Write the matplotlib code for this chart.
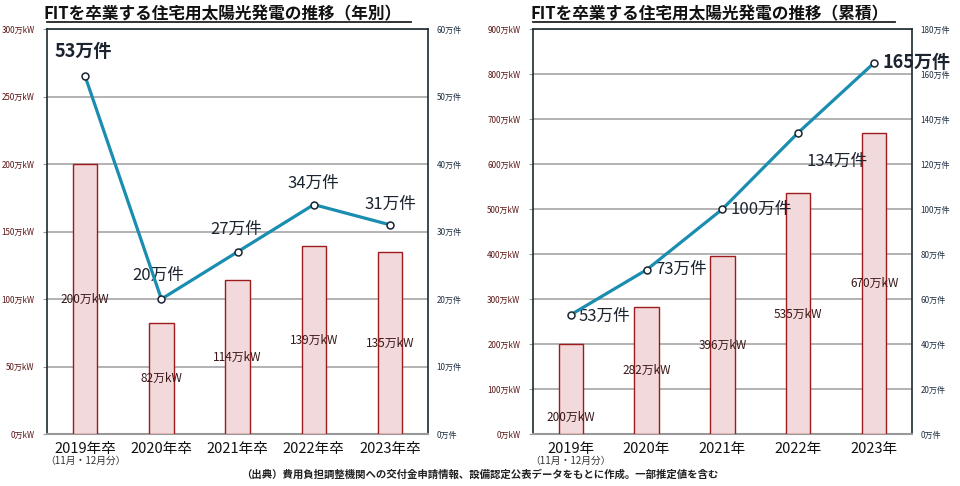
import numpy as np
import matplotlib.pyplot as plt

plt.rcParams['font.family'] = ['Noto Sans CJK JP', 'DejaVu Sans']

# data
years_annual = ["2019年卒", "2020年卒", "2021年卒", "2022年卒", "2023年卒"]
years_cum = ["2019年", "2020年", "2021年", "2022年", "2023年"]
kw_annual = [200, 82, 114, 139, 135]      # 万kW
count_annual = [53, 20, 27, 34, 31]       # 万件
kw_cum = [200, 282, 396, 535, 670]        # 万kW
count_cum = [53, 73, 100, 134, 165]       # 万件

LINE_C = "#1a8db0"
BAR_FC = "#f2d9db"
BAR_EC = "#9e1b1b"
LEFT_TC = "#5a1515"
RIGHT_TC = "#1f2f40"
TXT_C = "#1c2430"


def draw_panel(fig, rect, cats, kw, cnt, kw_max, kw_step, cnt_max, cnt_step,
               title, cnt_offsets, kw_label_y, bold_idx, title_pos):
    ax = fig.add_axes(rect)
    x = np.arange(len(cats))
    ax.bar(x, kw, width=0.32, color=BAR_FC, edgecolor=BAR_EC, linewidth=1.0, zorder=3)
    ax.set_xlim(-0.5, len(cats) - 0.5)
    ax.set_ylim(0, kw_max)
    ax.set_yticks(np.arange(0, kw_max + 1, kw_step))
    ax.set_yticklabels([f"{v}万kW" for v in range(0, kw_max + 1, kw_step)],
                       fontsize=5.8, color=LEFT_TC)
    ax.tick_params(axis='y', length=3, color="#999999", pad=6)
    ax.grid(axis='y', color="#a6a6a6", linewidth=1.2, zorder=0)
    ax.set_axisbelow(True)
    ax.set_xticks(x)
    ax.set_xticklabels(cats, fontsize=10.5, color="#111111")
    ax.tick_params(axis='x', length=0, pad=6)
    for s in ["left", "right", "top"]:
        ax.spines[s].set_color("#1c2a30")
        ax.spines[s].set_linewidth(1.2)
    ax.spines["bottom"].set_color("#999999")
    ax.spines["bottom"].set_linewidth(1.5)
    ax.text(0, -0.067, "（11月・12月分）", transform=ax.get_xaxis_transform(),
            ha='center', va='center', fontsize=7, color="#333333")

    for i, v in enumerate(kw):
        ax.text(x[i], kw_label_y[i], f"{v}万kW", ha='center', va='center',
                fontsize=8.5, color="#3a1818", zorder=5)

    ax2 = ax.twinx()
    ax2.set_ylim(0, cnt_max)
    ax2.set_yticks(np.arange(0, cnt_max + 1, cnt_step))
    ax2.set_yticklabels([f"{v}万件" for v in range(0, cnt_max + 1, cnt_step)],
                        fontsize=5.8, color=RIGHT_TC)
    ax2.tick_params(axis='y', length=0, pad=6)
    for s in ax2.spines.values():
        s.set_visible(False)
    ax2.plot(x, cnt, color=LINE_C, linewidth=2.3, marker='o', markersize=5,
             markerfacecolor='white', markeredgecolor=TXT_C, markeredgewidth=1.1,
             zorder=6)
    for i, v in enumerate(cnt):
        dx, dy, ha = cnt_offsets[i]
        bold = i == bold_idx
        ax2.annotate(f"{v}万件", (x[i], v), xytext=(dx, dy), textcoords='offset points',
                     ha=ha, va='center', fontsize=13 if bold else 12,
                     fontweight='bold' if bold else 'normal', color=TXT_C)

    # title with underline
    cx = rect[0] + rect[2] * title_pos
    fig.text(cx, 0.971, title, ha='center', va='center', fontsize=12,
             fontweight='bold', color="#111111")
    fig.add_artist(plt.Line2D([rect[0], rect[0] + rect[2] * 0.955], [0.955, 0.955],
                              color="#222222", linewidth=1.3,
                              transform=fig.transFigure))
    return ax


fig = plt.figure(figsize=(9.6, 4.86), dpi=100)

draw_panel(fig, [0.049, 0.107, 0.397, 0.833], years_annual, kw_annual, count_annual,
           300, 50, 60, 10, "FITを卒業する住宅用太陽光発電の推移（年別）",
           [(-22, 18, 'left'), (-2, 17, 'center'), (-1, 16, 'center'),
            (0, 15, 'center'), (0, 15, 'center')],
           [v / 2 for v in kw_annual], 0, 0.46)

draw_panel(fig, [0.555, 0.107, 0.395, 0.833], years_cum, kw_cum, count_cum,
           900, 100, 180, 20, "FITを卒業する住宅用太陽光発電の推移（累積）",
           [(6, -1, 'left'), (6, 0, 'left'), (6, 0, 'left'),
            (6, -21, 'left'), (6, 0, 'left')],
           [38, 141, 198, 267, 335], 4, 0.465)

fig.text(0.5, 0.024, "（出典）費用負担調整機関への交付金申請情報、設備認定公表データをもとに作成。一部推定値を含む",
         ha='center', va='center', fontsize=7.5, fontweight='bold', color="#222222")

fig.savefig("out.png", dpi=100)
